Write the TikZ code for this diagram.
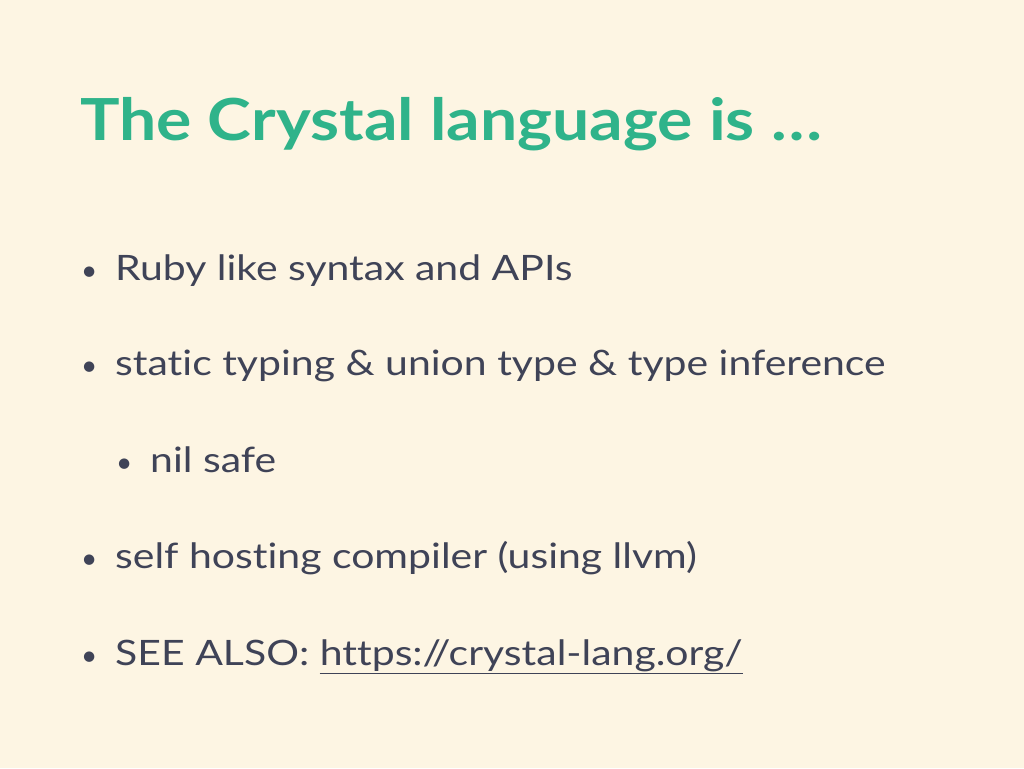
\documentclass[tikz,border=0pt]{standalone}
\usepackage{fontspec}
\setmainfont{Lato}[Ligatures=NoCommon]
\newfontfamily\ttlfont{Lato}[FakeStretch=1.14,Ligatures=NoCommon]
\newfontfamily\bodyfont{Lato}[FakeStretch=1.17,Ligatures=NoCommon]
\definecolor{bg}{HTML}{FDF5E3}
\definecolor{ttl}{HTML}{2FB38A}
\definecolor{txt}{HTML}{3F4357}
\begin{document}
\begin{tikzpicture}[x=1pt,y=-1pt,
  body/.style={anchor=base west,inner sep=0pt,text=txt,font=\bodyfont\fontsize{35}{40}\selectfont},
  bul/.style={anchor=base west,inner sep=0pt,text=txt,font=\fontsize{28}{36}\selectfont}]
\fill[bg] (0,0) rectangle (1024,768);
\useasboundingbox (0,0) rectangle (1024,768);
\node[anchor=base west,inner sep=0pt,text=ttl,font=\ttlfont\fontsize{58}{64}\selectfont\bfseries] (title) at (80,140) {The Crystal language is …};
\node[bul] (b1) at (81,280) {•};
\node[body] (t1) at (115,280) {Ruby like syntax and APIs};
\node[bul] (b2) at (81,375) {•};
\node[body] (t2) at (115,375) {static typing \& union type \& type inference};
\node[bul] (b3) at (116,472) {•};
\node[body] (t3) at (150,472) {nil safe};
\node[bul] (b4) at (81,568) {•};
\node[body] (t4) at (115,568) {self hosting compiler (using llvm)};
\node[bul] (b5) at (81,665) {•};
\node[body] (t5) at (115,665) {SEE ALSO: \underline{https://crystal-lang.org/}};
\end{tikzpicture}
\end{document}
